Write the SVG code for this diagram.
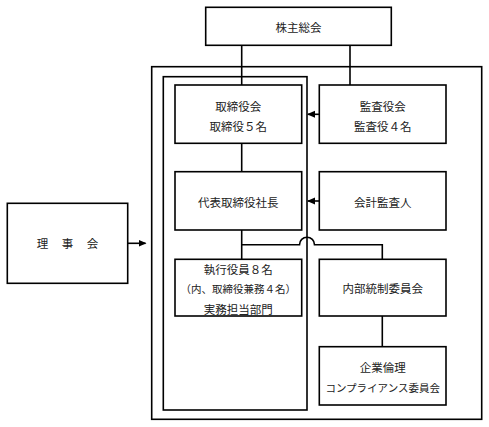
<svg xmlns="http://www.w3.org/2000/svg" width="489" height="427" viewBox="0 0 489 427">
<defs>
<style>
.box{fill:#fff;stroke:#000;stroke-width:1.6}
.frame{fill:none;stroke:#000;stroke-width:1.6}
.ln{fill:none;stroke:#000;stroke-width:1.6}
text{font-family:"Noto Sans CJK JP","Noto Sans CJK SC",sans-serif;font-size:11.5px;fill:#222;text-anchor:middle;dominant-baseline:central}
.sm{font-size:10.5px}
</style>
<marker id="ah" markerWidth="8" markerHeight="8" refX="7" refY="4" orient="auto" markerUnits="userSpaceOnUse">
<path d="M0,0.5 L8,4 L0,7.5 Z" fill="#000"/>
</marker>
</defs>
<rect width="489" height="427" fill="#fff"/>
<g id="company-frame"><rect class="frame" x="151.7" y="66.7" width="330" height="352.6"/></g>
<g id="board-frame"><rect class="frame" x="163.3" y="76.7" width="143.7" height="333.3"/></g>
<g id="connectors">
<line class="ln" x1="241.7" y1="45.3" x2="241.7" y2="85"/>
<line class="ln" x1="350" y1="45.3" x2="350" y2="85"/>
<line class="ln" x1="241.7" y1="143.3" x2="241.7" y2="171.7"/>
<line class="ln" x1="241.7" y1="230" x2="241.7" y2="259.3"/>
<path class="ln" d="M241.7,244.7 H299.5 A7.5,7.5 0 0 1 314.5,244.7 H382.3 V259.3"/>
<line class="ln" x1="382.3" y1="316" x2="382.3" y2="346.7"/>
<line class="ln" x1="319.3" y1="114.3" x2="308" y2="114.3" marker-end="url(#ah)"/>
<line class="ln" x1="319.3" y1="201" x2="308" y2="201" marker-end="url(#ah)"/>
<line class="ln" x1="119" y1="243.3" x2="145.5" y2="243.3" marker-end="url(#ah)"/>
</g>
<g id="shareholders"><rect class="box" x="205.7" y="7.3" width="185.6" height="38"/><text x="298.5" y="27">株主総会</text></g>
<g id="board"><rect class="box" x="175" y="85" width="126.7" height="58.3"/><text x="238.3" y="106">取締役会</text><text x="238.3" y="126">取締役５名</text></g>
<g id="auditors"><rect class="box" x="319.3" y="85" width="126.7" height="58.3"/><text x="382.7" y="106">監査役会</text><text x="382.7" y="126">監査役４名</text></g>
<g id="president"><rect class="box" x="175" y="171.7" width="126.7" height="58.3"/><text x="238.3" y="202">代表取締役社長</text></g>
<g id="accounting-auditor"><rect class="box" x="319.3" y="171.7" width="126.7" height="58.3"/><text x="382.7" y="202">会計監査人</text></g>
<g id="executives"><rect class="box" x="175" y="259.3" width="126.7" height="56.7"/><text x="238.3" y="269">執行役員８名</text><text class="sm" x="238.3" y="288">（内、取締役兼務４名）</text><text x="238.3" y="308.5">実務担当部門</text></g>
<g id="internal-control"><rect class="box" x="319.3" y="259.3" width="126.7" height="56.7"/><text x="382.7" y="288">内部統制委員会</text></g>
<g id="compliance"><rect class="box" x="319.3" y="346.7" width="126.7" height="58.3"/><text x="382.7" y="367">企業倫理</text><text class="sm" x="382.7" y="387">コンプライアンス委員会</text></g>
<g id="directors-council"><rect class="box" x="7.3" y="203.3" width="120.4" height="80"/><text x="42.5" y="243.3">理</text><text x="67.5" y="243.3">事</text><text x="92.5" y="243.3">会</text></g>
</svg>
